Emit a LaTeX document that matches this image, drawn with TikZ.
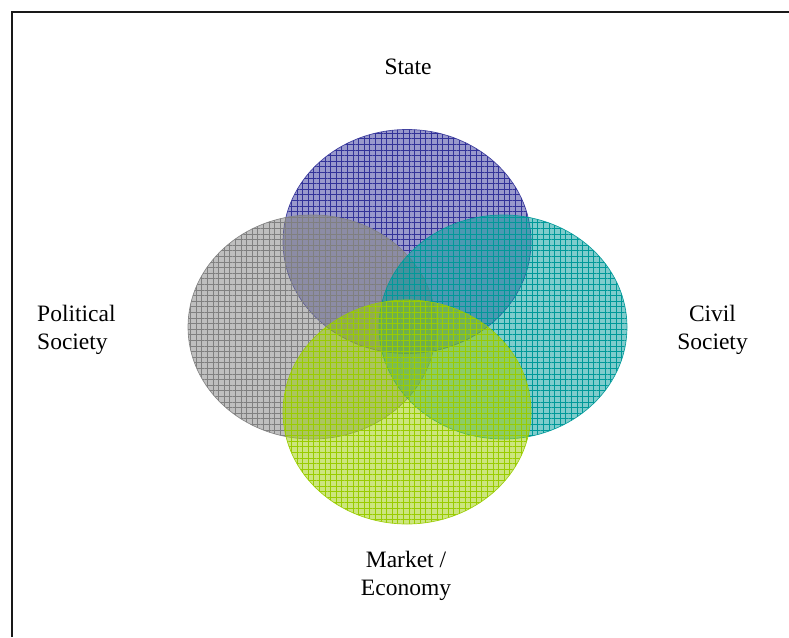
\documentclass[tikz,border=0pt]{standalone}
\usepackage{fontspec}
\setmainfont{Liberation Serif}
\usetikzlibrary{patterns.meta}

\definecolor{stateblue}{RGB}{51,51,153}
\definecolor{politgray}{RGB}{128,128,128}
\definecolor{civilteal}{RGB}{0,153,153}
\definecolor{marketgreen}{RGB}{153,204,0}

\tikzset{
  label text/.style={font=\fontsize{23.5}{27.5}\selectfont, inner sep=0pt},
  sphere/.style={fill=#1, fill opacity=0.5},
  sphere grid/.style={pattern={Hatch[distance=5.6pt, line width=0.5pt]},
    pattern color=#1, fill opacity=0.45},
  sphere rim/.style={draw=#1, line width=0.7pt, draw opacity=0.9},
  frame/.style={line width=2.2pt, draw=black!90}
}

% one translucent gridded sphere of the four-domain model
\newcommand{\domain}[4]{%
  \fill[sphere=#1] (#2,#3) ellipse [x radius=124, y radius=112];
  \path[sphere grid=#1] (#2,#3) ellipse [x radius=124, y radius=112];
  \draw[sphere rim=#1] (#2,#3) ellipse [x radius=124, y radius=112];
  \coordinate (#4) at (#2,#3);
}

\begin{document}
\begin{tikzpicture}[x=1pt, y=-1pt]
  \useasboundingbox (0,0) rectangle (789,637);

  % open frame along the left and top edges
  \coordinate (fbl) at (12,637);
  \coordinate (ftl) at (12,12);
  \coordinate (ftr) at (789,12);
  \draw[frame] (fbl) -- (ftl) -- (ftr);

  % the four overlapping domains
  \domain{stateblue}{407}{241.5}{state}
  \domain{politgray}{312}{327}{political}
  \domain{civilteal}{503}{327}{civil}
  \domain{marketgreen}{407}{412}{market}

  % domain labels
  \node[label text, anchor=base] (lstate) at (408,74) {State};
  \node[label text, align=left, anchor=west] (lpolit) at (37,330) {Political\\Society};
  \node[label text, align=center] (lcivil) at (712.5,330) {Civil\\Society};
  \node[label text, align=center] (lmarket) at (406,576) {Market /\\Economy};
\end{tikzpicture}
\end{document}
